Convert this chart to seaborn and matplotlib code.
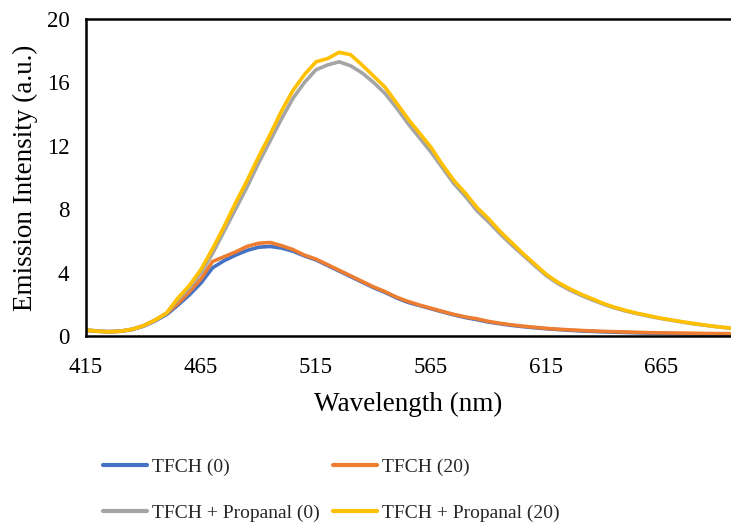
import numpy as np
import pandas as pd
import matplotlib
matplotlib.use("Agg")
import matplotlib.pyplot as plt
import seaborn as sns
from matplotlib.lines import Line2D

wavelength = list(range(415, 700, 5))

tfch_0 = [0.36, 0.30, 0.27, 0.30, 0.40, 0.62, 0.95, 1.35, 1.95, 2.60, 3.35, 4.30, 4.75, 5.10,
          5.40, 5.60, 5.65, 5.55, 5.35, 5.05, 4.80, 4.45, 4.10, 3.75, 3.40, 3.05, 2.75, 2.40,
          2.12, 1.92, 1.72, 1.52, 1.33, 1.16, 1.03, 0.88, 0.77, 0.67, 0.59, 0.52, 0.46, 0.41,
          0.36, 0.32, 0.29, 0.26, 0.24, 0.22, 0.20, 0.18, 0.17, 0.15, 0.14, 0.13, 0.12, 0.12, 0.11]
tfch_20 = [0.36, 0.30, 0.27, 0.30, 0.42, 0.65, 1.00, 1.42, 2.05, 2.80, 3.60, 4.70, 5.00, 5.30,
           5.65, 5.85, 5.90, 5.70, 5.45, 5.10, 4.85, 4.50, 4.15, 3.80, 3.45, 3.10, 2.80, 2.45,
           2.18, 1.95, 1.75, 1.55, 1.36, 1.20, 1.08, 0.92, 0.80, 0.70, 0.62, 0.55, 0.48, 0.43,
           0.39, 0.35, 0.32, 0.29, 0.27, 0.25, 0.23, 0.21, 0.20, 0.19, 0.18, 0.17, 0.16, 0.15, 0.15]
prop_0 = [0.40, 0.32, 0.28, 0.31, 0.43, 0.64, 0.98, 1.42, 2.30, 3.05, 4.00, 5.20, 6.60, 8.00,
          9.40, 10.90, 12.30, 13.70, 15.00, 16.00, 16.80, 17.10, 17.30, 17.05, 16.60, 16.00,
          15.30, 14.40, 13.40, 12.50, 11.60, 10.60, 9.60, 8.80, 7.90, 7.20, 6.45, 5.75, 5.10,
          4.45, 3.82, 3.32, 2.92, 2.58, 2.28, 2.00, 1.76, 1.56, 1.39, 1.24, 1.10, 0.98, 0.86,
          0.75, 0.66, 0.57, 0.49]
prop_20 = [0.38, 0.30, 0.27, 0.30, 0.42, 0.65, 1.00, 1.45, 2.40, 3.20, 4.20, 5.50, 6.90, 8.40,
           9.80, 11.30, 12.70, 14.20, 15.50, 16.50, 17.30, 17.50, 17.90, 17.75, 17.10, 16.40,
           15.70, 14.70, 13.70, 12.80, 11.90, 10.80, 9.80, 9.00, 8.10, 7.40, 6.60, 5.90, 5.20,
           4.55, 3.90, 3.40, 3.00, 2.65, 2.35, 2.05, 1.80, 1.60, 1.42, 1.27, 1.12, 1.00, 0.88,
           0.77, 0.67, 0.58, 0.50]

series_names = ["TFCH (0)", "TFCH (20)", "TFCH + Propanal (0)", "TFCH + Propanal (20)"]
series_vals = [tfch_0, tfch_20, prop_0, prop_20]
colors = ["#4472C4", "#ED7D31", "#A5A5A5", "#FFC000"]

x_ticks = [415, 465, 515, 565, 615, 665]
y_ticks = [0, 4, 8, 12, 16, 20]

df = pd.concat([pd.DataFrame({"Wavelength": wavelength, "Intensity": v, "Series": n})
                for n, v in zip(series_names, series_vals)], ignore_index=True)

sns.set_theme(style="white")
plt.rcParams["font.family"] = ["Liberation Serif", "DejaVu Serif"]

fig = plt.figure(figsize=(7.31, 5.25), dpi=100)
ax = fig.add_axes([86/731, 1-336/525, 1-86/731, (336-19)/525])

sns.lineplot(data=df, x="Wavelength", y="Intensity", hue="Series",
             hue_order=series_names, palette=dict(zip(series_names, colors)),
             estimator=None, sort=False, linewidth=2.6, ax=ax, legend=False)

ax.set_xlim(415, 695.4)
ax.set_ylim(0, 20)
ax.set_xticks(x_ticks)
ax.set_yticks(y_ticks)
ax.tick_params(axis="both", direction="in", length=6, width=1.2, colors="black",
               labelsize=16.5)
ax.tick_params(axis="x", pad=15)
ax.tick_params(axis="y", pad=12)
for s in ["left", "bottom", "top"]:
    ax.spines[s].set_color("black")
    ax.spines[s].set_linewidth(1.8)
ax.spines["right"].set_visible(False)
ax.set_xlabel("Wavelength (nm)", fontsize=19.5, labelpad=10, color="black")
ax.set_ylabel("Emission Intensity (a.u.)", fontsize=19.5, labelpad=6, color="black")

handles = [Line2D([0], [0], color=c, lw=3) for c in colors]
order = [0, 2, 1, 3]
fig.legend([handles[i] for i in order], [series_names[i] for i in order], ncol=2,
           loc="center left", bbox_to_anchor=(85/731, 1-490/525), frameon=False,
           fontsize=14, handlelength=2.27, handletextpad=0.25, columnspacing=0.7,
           labelspacing=1.45)

fig.savefig("out.png", dpi=100)
